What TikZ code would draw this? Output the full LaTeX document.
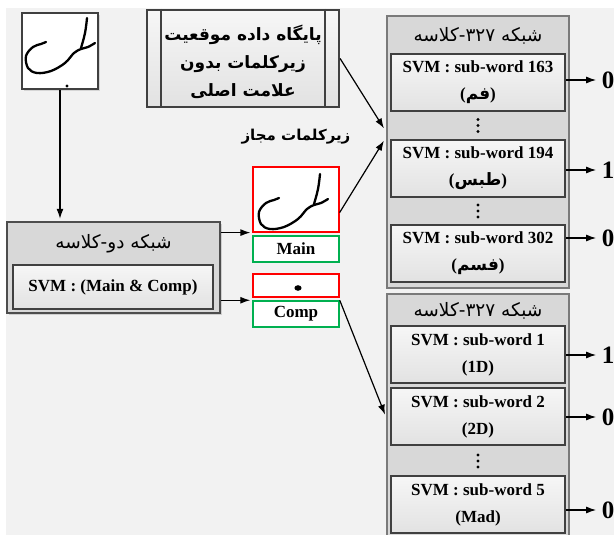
\documentclass[tikz,border=0pt]{standalone}
\usepackage{fontspec}
\setmainfont{Liberation Serif}
\newfontfamily\farsi[Script=Arabic]{DejaVu Sans}
\TeXXeTstate=1
\usetikzlibrary{arrows.meta,shadows}

\definecolor{paper}{HTML}{F2F2F2}
\definecolor{grpfill}{HTML}{D8D8D8}
\definecolor{grpline}{HTML}{7A7A7A}
\definecolor{boxline}{HTML}{404040}
\definecolor{svmtop}{HTML}{F6F6F6}
\definecolor{svmbot}{HTML}{E2E2E2}
\definecolor{grn}{HTML}{00B050}

\newcommand{\fa}[1]{{\farsi\beginR #1\endR}}

\tikzset{hand/.pic={
    \draw[line width=2.3pt,line cap=round,line join=round]
      plot[smooth,tension=0.7] coordinates {(27,-33) (25,-18) (21,-3)};
    \draw[line width=2.3pt,line cap=round,line join=round]
      plot[smooth,tension=0.6] coordinates {(-14,-9) (-19,-7) (-27,-4) (-34,5) (-32,17) (-23,22) (-9,20) (5,12) (14,2) (21,-2) (28,-4) (35,-8)};
  },
  dots/.pic={
    \foreach \k in {-6,0,6} \fill (0,\k) circle (1.7pt);
  }}

\begin{document}
\begin{tikzpicture}[x=1pt,y=-1pt,line width=1.2pt,
    >={Latex[length=10pt,width=7pt]},
    font=\fontsize{17}{27}\selectfont\bfseries,
    link/.style={->,shorten >=2pt},
    grpbox/.style={draw=grpline,line width=2.4pt,fill=grpfill,minimum width=182pt},
    svmbox/.style={draw=boxline,line width=2.4pt,top color=svmtop,bottom color=svmbot,
      align=center,inner sep=0pt,minimum width=174pt,minimum height=57pt},
    redbox/.style={draw=red,line width=1.2pt,fill=white,minimum width=86pt},
    greenbox/.style={draw=grn,line width=1.5pt,fill=white,minimum width=86pt,minimum height=26pt,inner sep=0pt},
    outnum/.style={font=\fontsize{25}{25}\selectfont\bfseries,inner sep=3pt},
    fahead/.style={font=\fontsize{18.5}{18.5}\selectfont\farsi,inner sep=0pt},
    fabold/.style={font=\fontsize{17}{28}\selectfont\farsi\bfseries,inner sep=0pt,align=center}]

    \useasboundingbox (0,0) rectangle (614,535);
    \fill[paper] (6,8) rectangle (614,535);

    % Nodes
    \node[draw=boxline,line width=2.4pt,fill=white,minimum width=76pt,minimum height=76pt,
      drop shadow={opacity=0.25,shadow xshift=2pt,shadow yshift=-2pt}] (word) at (60,51) {};
    \pic at (60,51) {hand};
    \fill (67,86) circle (1.7pt);

    \node[draw=boxline,line width=2.2pt,top color=svmtop,bottom color=svmbot,
      minimum width=192pt,minimum height=97pt] (db) at (243,58.5) {};
    \draw[boxline,line width=2pt] ([xshift=15pt]db.north west) -- ([xshift=15pt]db.south west);
    \draw[boxline,line width=2pt] ([xshift=-15pt]db.north east) -- ([xshift=-15pt]db.south east);
    \node[fabold] (dbtxt) at (243,62) {\fa{پایگاه داده موقعیت}\\ \fa{زیرکلمات بدون}\\ \fa{علامت اصلی}};

    \node[fabold,font=\fontsize{15}{15}\selectfont\farsi\bfseries] (valid) at (296,137) {\fa{زیرکلمات مجاز}};

    \node[draw=boxline!80!gray,line width=2.4pt,fill=grpfill,minimum width=213pt,minimum height=91pt,
      drop shadow={opacity=0.3,shadow xshift=2pt,shadow yshift=-2pt}] (two) at (113.5,267.5) {};
    \node[fahead] (twohead) at (113.5,244) {\fa{شبکه دو-کلاسه}};
    \node[svmbox,minimum width=200pt,minimum height=44pt] (twosvm) at (113,287) {SVM : (Main \& Comp)};

    \node[redbox,minimum height=65pt] (mainimg) at (296,199.5) {};
    \pic at (293,207) {hand};
    \node[greenbox] (mainlbl) at (296,249) {Main};
    \node[redbox,minimum height=23pt] (dotimg) at (296,285.5) {};
    \fill (298,288) ellipse (3.6pt and 2.8pt);
    \node[greenbox] (complbl) at (296,314) {Comp};

    % first 327-class network
    \node[grpbox,minimum height=272pt] (net1) at (478,152) {};
    \node[fahead] (head1) at (478,36) {\fa{شبکه ۳۲۷-کلاسه}};
    \node[svmbox] (s163) at (478,82.5) {SVM : sub-word 163\\({\farsi فم})};
    \pic at (478,125.5) {dots};
    \node[svmbox] (s194) at (478,168.5) {SVM : sub-word 194\\({\farsi طبس})};
    \pic at (478,211) {dots};
    \node[svmbox] (s302) at (478,253.5) {SVM : sub-word 302\\({\farsi فسم})};

    % second 327-class network
    \node[grpbox,minimum height=246pt] (net2) at (478,417) {};
    \node[fahead] (head2) at (478,311) {\fa{شبکه ۳۲۷-کلاسه}};
    \node[svmbox] (s1) at (478,354.5) {SVM : sub-word 1\\(1D)};
    \node[svmbox] (s2) at (478,416.5) {SVM : sub-word 2\\(2D)};
    \pic at (478,461) {dots};
    \node[svmbox] (s5) at (478,504.5) {SVM : sub-word 5\\(Mad)};

    % outputs
    \node[outnum] (o163) at (608,80) {0};
    \node[outnum] (o194) at (608,170) {1};
    \node[outnum] (o302) at (608,238) {0};
    \node[outnum] (o1) at (608,355) {1};
    \node[outnum] (o2) at (608,417) {0};
    \node[outnum] (o5) at (608,510) {0};

    \coordinate (in1) at (385,130);
    \coordinate (in2) at (385,139);

    % Arrow
    \draw[link] (word.south) -- (two.north -| word.south);
    \draw[link] (two.east |- mainimg.south) -- (mainimg.south west);
    \draw[link] (two.east |- complbl.north) -- (complbl.north west);
    \draw[link] (db.east) -- (in1);
    \draw[link] ([yshift=20pt]mainimg.south east) -- (in2);
    \draw[link] (complbl.north east) -- (net2.west |- s2.west);
    \foreach \s/\o in {s163/o163,s194/o194,s302/o302,s1/o1,s2/o2,s5/o5}
      \draw[link] (\s.east |- \o.west) -- (\o.west);
\end{tikzpicture}
\end{document}
